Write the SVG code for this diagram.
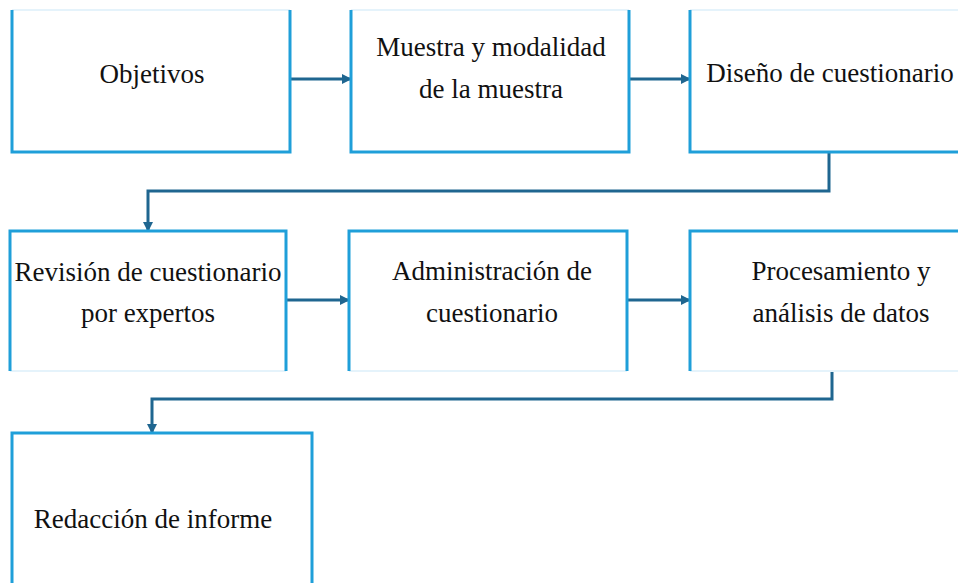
<svg xmlns="http://www.w3.org/2000/svg" width="958" height="583" viewBox="0 0 958 583">
<style>
.b{fill:none;stroke:#1f9fd9;stroke-width:3}
.f{fill:none;stroke:#dcefFa;stroke-width:1.5}
.c{fill:none;stroke:#1f6690;stroke-width:3}
.t{font-size:27px;fill:#111;text-anchor:middle}
</style>
<defs>
<marker id="a" markerWidth="10" markerHeight="10" refX="8" refY="5" orient="auto" markerUnits="userSpaceOnUse" viewBox="0 0 10 10">
<path d="M0,0 L10,5 L0,10 Z" fill="#1f6690"/>
</marker>
</defs>
<rect width="958" height="583" fill="#fff"/>
<g id="connectors">
<line class="c" x1="291" y1="79" x2="350" y2="79" marker-end="url(#a)"/>
<line class="c" x1="630" y1="79" x2="689" y2="79" marker-end="url(#a)"/>
<polyline class="c" points="829,153 829,191 148,191 148,230" marker-end="url(#a)"/>
<line class="c" x1="287" y1="300" x2="348" y2="300" marker-end="url(#a)"/>
<line class="c" x1="628" y1="300" x2="689" y2="300" marker-end="url(#a)"/>
<polyline class="c" points="832,372 832,399 152,399 152,432" marker-end="url(#a)"/>
</g>
<g font-family="Liberation Serif, serif">
<g id="n1">
<line class="f" x1="12" y1="10" x2="290" y2="10"/>
<polyline class="b" points="12,10 12,152 290,152 290,10"/>
<text class="t" x="152" y="83">Objetivos</text>
</g>
<g id="n2">
<line class="f" x1="351" y1="10" x2="629" y2="10"/>
<polyline class="b" points="351,10 351,152 629,152 629,10"/>
<text class="t" x="491" y="56">Muestra y modalidad</text>
<text class="t" x="491" y="98">de la muestra</text>
</g>
<g id="n3">
<line class="f" x1="690" y1="10" x2="958" y2="10"/>
<polyline class="b" points="690,10 690,152 958,152"/>
<text class="t" x="830" y="82">Diseño de cuestionario</text>
</g>
<g id="n4">
<line class="f" x1="10" y1="371" x2="286" y2="371"/>
<polyline class="b" points="10,371 10,231 286,231 286,371"/>
<text class="t" x="148" y="281">Revisión de cuestionario</text>
<text class="t" x="148" y="322">por expertos</text>
</g>
<g id="n5">
<line class="f" x1="349" y1="371" x2="627" y2="371"/>
<polyline class="b" points="349,371 349,231 627,231 627,371"/>
<text class="t" x="492" y="280">Administración de</text>
<text class="t" x="492" y="322">cuestionario</text>
</g>
<g id="n6">
<line class="f" x1="690" y1="371" x2="958" y2="371"/>
<polyline class="b" points="690,371 690,231 958,231"/>
<text class="t" x="841" y="280">Procesamiento y</text>
<text class="t" x="841" y="322">análisis de datos</text>
</g>
<g id="n7">
<polyline class="b" points="12,583 12,433 312,433 312,583"/>
<text class="t" x="153" y="528">Redacción de informe</text>
</g>
</g>
</svg>
